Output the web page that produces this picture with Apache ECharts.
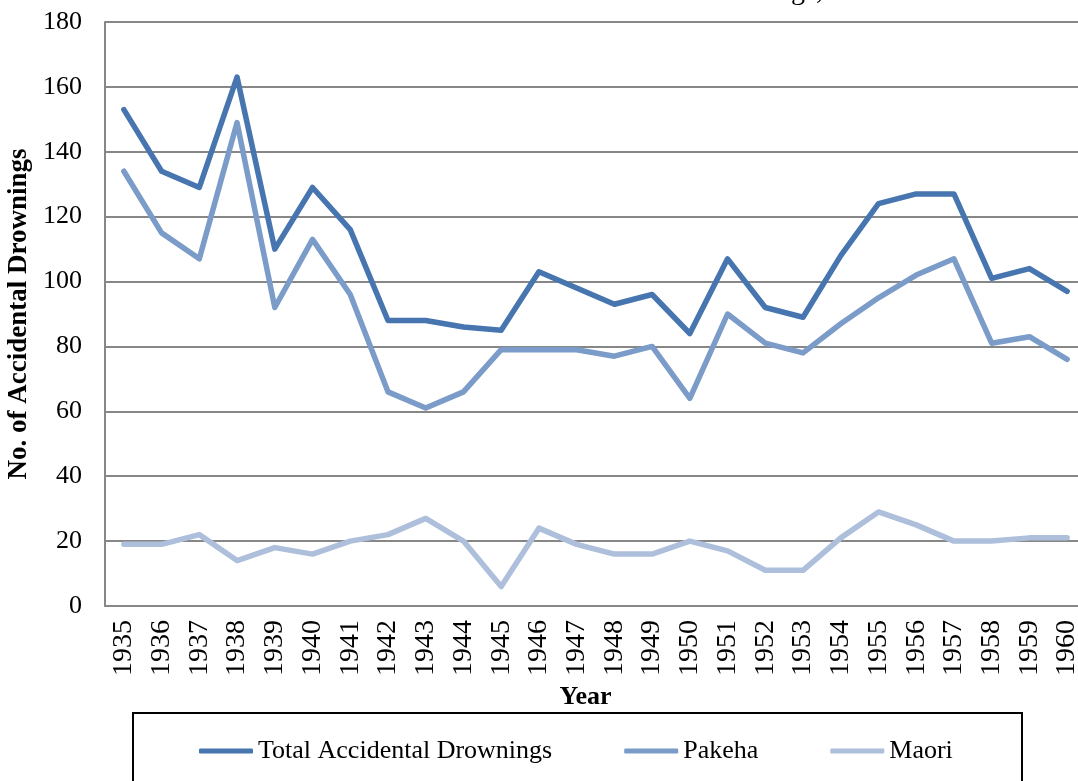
<!DOCTYPE html>
<html>
<head>
<meta charset="utf-8">
<title>Accidental Drownings</title>
<script src="https://cdn.jsdelivr.net/npm/echarts@6/dist/echarts.min.js"></script>
<style>
  html, body { margin: 0; padding: 0; background: #fff; }
  #chart { width: 1078px; height: 781px; }
</style>
</head>
<body>
<div id="chart"></div>
<script>
const years = ['1935', '1936', '1937', '1938', '1939', '1940', '1941', '1942', '1943', '1944', '1945', '1946', '1947',
  '1948', '1949', '1950', '1951', '1952', '1953', '1954', '1955', '1956', '1957', '1958', '1959', '1960']
const totalDrownings = [153, 134, 129, 163, 110, 129, 116, 88, 88, 86, 85, 103, 98,
  93, 96, 84, 107, 92, 89, 108, 124, 127, 127, 101, 104, 97]
const pakeha = [134, 115, 107, 149, 92, 113, 96, 66, 61, 66, 79, 79, 79,
  77, 80, 64, 90, 81, 78, 87, 95, 102, 107, 81, 83, 76]
const maori = [19, 19, 22, 14, 18, 16, 20, 22, 27, 20, 6, 24, 19,
  16, 16, 20, 17, 11, 11, 21, 29, 25, 20, 20, 21, 21]

const serif = "'Liberation Serif', 'Times New Roman', serif"
const gridGray = '#878787'

const chart = echarts.init(document.getElementById('chart'))

const lineSeries = (name, data, color) => ({
  name: name,
  type: 'line',
  data: data,
  showSymbol: false,
  symbol: 'none',
  lineStyle: { color: color, width: 5.5, cap: 'round', join: 'round' },
  itemStyle: { color: color }
})

chart.setOption({
  animation: false,
  backgroundColor: '#fff',
  textStyle: { fontFamily: serif },
  // title sits above the crop, only the descenders show
  title: {
    text: 'Accidental Drownings,',
    right: 250,
    top: -27,
    textStyle: { fontFamily: serif, fontWeight: 'normal', fontSize: 28, color: '#000' }
  },
  graphic: [{
    type: 'rect',
    shape: { x: 133, y: 713, width: 889, height: 100 },
    style: { fill: 'none', stroke: '#000', lineWidth: 2 }
  }],
  legend: {
    left: 194,
    top: 733,
    itemWidth: 54,
    itemHeight: 5,
    itemGap: 72,
    icon: 'roundRect',
    textStyle: { fontFamily: serif, fontSize: 26, color: '#000' },
    data: ['Total Accidental Drownings', 'Pakeha', 'Maori']
  },
  grid: {
    left: 105,
    top: 22,
    width: 981,
    height: 584,
    containLabel: false,
    outerBoundsMode: 'none'
  },
  xAxis: {
    type: 'category',
    data: years,
    boundaryGap: true,
    name: 'Year',
    nameLocation: 'middle',
    nameGap: 76,
    nameTextStyle: { fontFamily: serif, fontWeight: 'bold', fontSize: 26, color: '#000', padding: [0, 20, 0, 0] },
    axisLine: { show: true, lineStyle: { color: gridGray, width: 2 } },
    axisTick: { show: false },
    axisLabel: { rotate: 90, interval: 0, margin: 14, fontFamily: serif, fontSize: 28, color: '#000' }
  },
  yAxis: {
    type: 'value',
    min: 0,
    max: 180,
    interval: 20,
    name: 'No. of Accidental Drownings',
    nameLocation: 'middle',
    nameGap: 62,
    nameTextStyle: { fontFamily: serif, fontWeight: 'bold', fontSize: 27, color: '#000' },
    axisLine: { show: true, lineStyle: { color: gridGray, width: 2 } },
    axisTick: { show: false },
    axisLabel: { margin: 23, fontFamily: serif, fontSize: 26, color: '#000' },
    splitLine: { show: true, lineStyle: { color: gridGray, width: 2 } }
  },
  series: [
    lineSeries('Total Accidental Drownings', totalDrownings, '#4675AF'),
    lineSeries('Pakeha', pakeha, '#7B9BC8'),
    lineSeries('Maori', maori, '#ADBFDB')
  ]
})
</script>
</body>
</html>
